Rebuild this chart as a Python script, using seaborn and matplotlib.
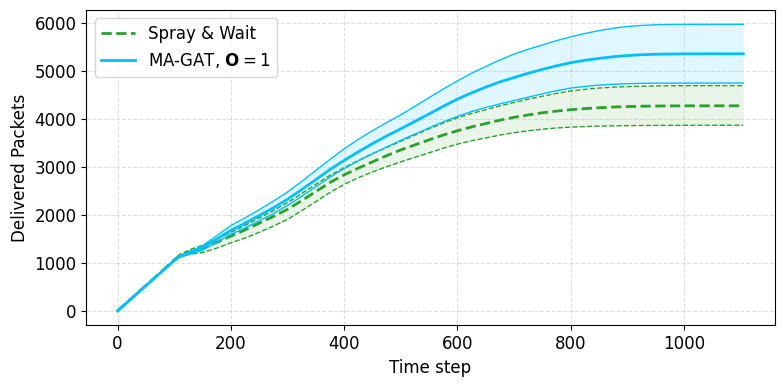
import matplotlib
matplotlib.use("Agg")
import matplotlib.pyplot as plt
import seaborn as sns
import pandas as pd

steps = [0, 50, 100, 110, 130, 150, 175,
         200, 225, 250, 275, 300, 325, 350, 375, 400, 425, 450, 475, 500, 525, 550, 575,
         600, 625, 650, 675, 700, 725, 750, 775, 800, 825, 850, 875, 900, 925, 950, 975,
         1000, 1050, 1105]

# Spray & Wait: mean and band edges
spray_mean = [0, 530, 1060, 1160, 1240, 1300, 1430,
              1560, 1690, 1830, 1970, 2120, 2300, 2490, 2680, 2840, 2980, 3110, 3240, 3360, 3465, 3570, 3670,
              3760, 3840, 3910, 3980, 4040, 4090, 4135, 4170, 4200, 4222, 4240, 4255, 4265, 4272, 4276, 4279,
              4280, 4281, 4281]
spray_upper = [0, 530, 1070, 1180, 1290, 1370, 1500,
               1640, 1785, 1940, 2095, 2260, 2450, 2640, 2830, 2990, 3140, 3280, 3410, 3540, 3670, 3800, 3920,
               4030, 4120, 4200, 4280, 4350, 4420, 4480, 4540, 4590, 4625, 4652, 4670, 4682, 4690, 4696, 4699,
               4700, 4701, 4701]
spray_lower = [0, 530, 1050, 1140, 1190, 1220, 1310,
               1420, 1520, 1640, 1770, 1910, 2090, 2280, 2470, 2640, 2780, 2900, 3010, 3110, 3205, 3300, 3395,
               3480, 3550, 3610, 3670, 3720, 3760, 3792, 3818, 3836, 3848, 3857, 3863, 3867, 3870, 3872, 3873,
               3874, 3875, 3875]

# MA-GAT, O = 1: mean and band edges
magat_mean = [0, 525, 1050, 1140, 1220, 1320, 1500,
              1680, 1830, 1990, 2150, 2330, 2530, 2740, 2950, 3140, 3320, 3490, 3650, 3800, 3955, 4110, 4270,
              4420, 4550, 4670, 4780, 4870, 4960, 5040, 5115, 5180, 5230, 5270, 5305, 5330, 5347, 5357, 5362,
              5364, 5366, 5366]
magat_upper = [0, 530, 1060, 1160, 1250, 1360, 1570,
               1780, 1940, 2110, 2290, 2480, 2700, 2930, 3160, 3380, 3580, 3760, 3930, 4090, 4270, 4450, 4630,
               4800, 4960, 5100, 5235, 5360, 5460, 5550, 5640, 5720, 5790, 5850, 5900, 5935, 5958, 5972, 5978,
               5980, 5982, 5982]
magat_lower = [0, 520, 1040, 1120, 1190, 1270, 1430,
               1600, 1730, 1880, 2030, 2200, 2390, 2590, 2790, 2970, 3130, 3280, 3420, 3560, 3690, 3820, 3945,
               4060, 4160, 4245, 4320, 4390, 4460, 4530, 4595, 4650, 4685, 4712, 4730, 4742, 4749, 4753, 4754,
               4755, 4756, 4756]

spray_color = "#2ca02c"
magat_color = "#00bfff"

df = pd.DataFrame({"step": steps,
                   "spray_mean": spray_mean, "spray_upper": spray_upper, "spray_lower": spray_lower,
                   "magat_mean": magat_mean, "magat_upper": magat_upper, "magat_lower": magat_lower})

fig, ax = plt.subplots(figsize=(7.84, 3.84), dpi=100)

# Spray & Wait
sns.lineplot(data=df, x="step", y="spray_mean", ax=ax, color=spray_color, lw=2,
             linestyle="--", label="Spray & Wait")
ax.fill_between(df["step"], df["spray_lower"], df["spray_upper"], color=spray_color, alpha=0.1, lw=0)
sns.lineplot(data=df, x="step", y="spray_upper", ax=ax, color=spray_color, lw=1, linestyle="--")
sns.lineplot(data=df, x="step", y="spray_lower", ax=ax, color=spray_color, lw=1, linestyle="--")

# MA-GAT
sns.lineplot(data=df, x="step", y="magat_mean", ax=ax, color=magat_color, lw=2,
             label=r"MA-GAT, $\mathbf{O}=1$")
ax.fill_between(df["step"], df["magat_lower"], df["magat_upper"], color=magat_color, alpha=0.12, lw=0)
sns.lineplot(data=df, x="step", y="magat_upper", ax=ax, color=magat_color, lw=1)
sns.lineplot(data=df, x="step", y="magat_lower", ax=ax, color=magat_color, lw=1)

ax.set_xlabel("Time step", fontsize=12)
ax.set_ylabel("Delivered Packets", fontsize=12)
ax.tick_params(labelsize=12)
ax.grid(True, linestyle="--", alpha=0.4)
ax.legend(loc="upper left", fontsize=12)

fig.subplots_adjust(left=0.11, right=0.988, bottom=0.153, top=0.974)
fig.savefig("out.png", dpi=100)
